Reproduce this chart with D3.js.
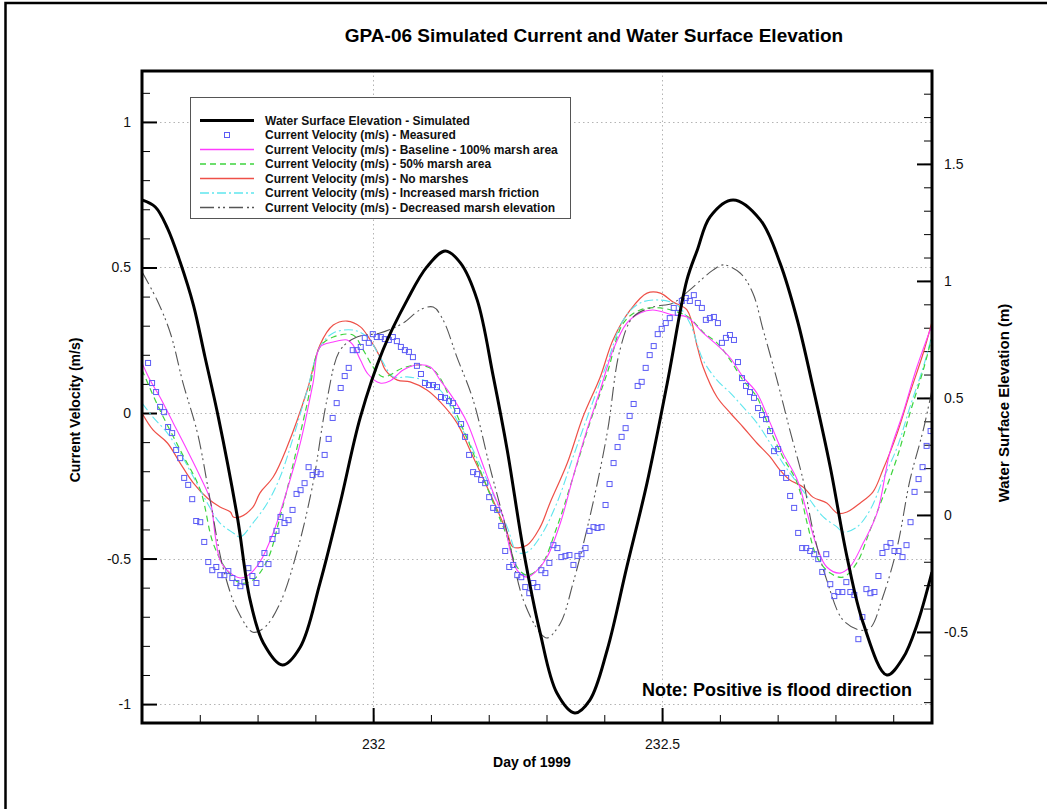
<!DOCTYPE html>
<html>
<head>
<meta charset="utf-8">
<script src="https://cdn.jsdelivr.net/npm/d3@7/dist/d3.min.js"></script>
<style>
  body { margin: 0; background: #fff; }
  svg { display: block; }
  text { font-family: "Liberation Sans", Arial, Helvetica, sans-serif; }
</style>
</head>
<body>
<svg id="chart" width="1047" height="809"></svg>
<script>
// ---- Data: GPA-06 station, day of year 1999 ----

// Simulated water surface elevation (m), [day, value]
const waterSurface = [
  [231.600,1.346],[231.623,1.316],[231.644,1.226],[231.666,1.081],[231.689,0.897],
  [231.709,0.675],[231.732,0.419],[231.765,-0.009],[231.787,-0.363],[231.810,-0.547],
  [231.843,-0.641],[231.874,-0.564],[231.908,-0.291],[231.943,0.051],[231.978,0.419],
  [232.017,0.705],[232.059,0.919],[232.093,1.060],[232.125,1.128],[232.151,1.077],
  [232.180,0.919],[232.208,0.590],[232.232,0.278],[232.260,-0.150],[232.289,-0.504],
  [232.318,-0.761],[232.349,-0.846],[232.375,-0.791],[232.405,-0.577],[232.439,-0.222],
  [232.474,0.137],[232.509,0.564],[232.543,1.004],[232.561,1.132],[232.583,1.274],
  [232.623,1.346],[232.670,1.261],[232.704,1.077],[232.734,0.833],[232.761,0.547],
  [232.791,0.205],[232.820,-0.179],[232.848,-0.462],[232.889,-0.684],[232.917,-0.611],
  [232.941,-0.470],[232.967,-0.244]
];

// Measured current velocity (m/s), 10-minute samples
const measuredStart = 231.6105;
const measuredStepMinutes = 10;
const measuredVelocity = [
  0.172,0.103,0.072,0.021,0.003,-0.048,-0.069,-0.127,-0.155,-0.223,
  -0.247,-0.296,-0.371,-0.375,-0.443,-0.512,-0.540,-0.529,-0.557,-0.557,
  -0.543,-0.567,-0.584,-0.595,-0.581,-0.533,-0.560,-0.584,-0.519,-0.481,
  -0.519,-0.433,-0.405,-0.357,-0.378,-0.368,-0.333,-0.278,-0.265,-0.241,
  -0.186,-0.213,-0.203,-0.210,-0.144,-0.089,-0.017,0.034,0.086,0.127,
  0.155,0.216,0.216,0.227,0.258,0.241,0.271,0.261,0.261,0.254,
  0.251,0.261,0.247,0.227,0.216,0.210,0.192,0.162,0.134,0.103,
  0.096,0.096,0.089,0.055,0.052,0.041,0.034,0.007,-0.038,-0.082,
  -0.144,-0.203,-0.210,-0.230,-0.241,-0.289,-0.326,-0.333,-0.388,-0.474,
  -0.529,-0.522,-0.557,-0.564,-0.598,-0.619,-0.584,-0.598,-0.540,-0.550,
  -0.515,-0.454,-0.464,-0.495,-0.491,-0.488,-0.522,-0.491,-0.485,-0.464,
  -0.405,-0.392,-0.395,-0.392,-0.316,-0.244,-0.172,-0.117,-0.082,-0.052,
  -0.010,0.031,0.093,0.107,0.155,0.199,0.230,0.271,0.289,0.309,
  0.326,0.361,0.344,0.385,0.395,0.385,0.405,0.378,0.361,0.320,
  0.326,0.330,0.309,0.241,0.258,0.268,0.251,0.175,0.120,0.093,
  0.072,0.052,0.017,-0.007,-0.021,-0.062,-0.131,-0.124,-0.206,-0.223,
  -0.285,-0.326,-0.412,-0.464,-0.464,-0.474,-0.485,-0.502,-0.546,-0.485,
  -0.588,-0.629,-0.615,-0.615,-0.581,-0.615,-0.625,-0.777,-0.701,-0.605,
  -0.619,-0.615,-0.560,-0.481,-0.460,-0.447,-0.474,-0.474,-0.495,-0.454,
  -0.375,-0.271,-0.227,-0.186,-0.113,-0.062,-0.003
];

// Simulated current velocity (m/s): baseline, 100% marsh area
const baseline = [
  [231.600,0.172],[231.614,0.113],[231.631,0.055],[231.654,-0.034],[231.678,-0.127],
  [231.701,-0.220],[231.718,-0.299],[231.727,-0.426],[231.735,-0.505],[231.747,-0.540],
  [231.770,-0.567],[231.784,-0.557],[231.804,-0.512],[231.827,-0.412],[231.851,-0.265],
  [231.874,-0.103],[231.896,0.103],[231.908,0.227],[231.931,0.244],[231.955,0.251],
  [231.965,0.234],[231.978,0.182],[231.991,0.134],[232.012,0.103],[232.029,0.110],
  [232.052,0.148],[232.076,0.165],[232.099,0.158],[232.116,0.113],[232.138,0.052],
  [232.163,-0.034],[232.185,-0.151],[232.208,-0.275],[232.225,-0.357],[232.237,-0.471],
  [232.249,-0.540],[232.266,-0.564],[232.284,-0.540],[232.301,-0.495],[232.324,-0.378],
  [232.346,-0.220],[232.370,-0.058],[232.393,0.079],[232.415,0.216],[232.439,0.309],
  [232.462,0.344],[232.484,0.354],[232.519,0.337],[232.543,0.330],[232.571,0.275],
  [232.595,0.234],[232.618,0.189],[232.640,0.124],[232.664,0.069],[232.687,-0.034],
  [232.709,-0.137],[232.734,-0.230],[232.751,-0.344],[232.768,-0.460],[232.785,-0.529],
  [232.808,-0.550],[232.825,-0.529],[232.848,-0.447],[232.872,-0.344],[232.894,-0.137],
  [232.917,0.000],[232.941,0.158],[232.967,0.302]
];

// 50% marsh area
const halfMarsh = [
  [231.600,0.148],[231.631,0.010],[231.666,-0.127],[231.701,-0.265],[231.723,-0.447],
  [231.747,-0.540],[231.770,-0.584],[231.792,-0.574],[231.817,-0.505],[231.839,-0.357],
  [231.862,-0.172],[231.886,0.034],[231.908,0.227],[231.931,0.261],[231.965,0.268],
  [231.983,0.216],[232.000,0.158],[232.017,0.124],[232.052,0.155],[232.081,0.165],
  [232.104,0.148],[232.116,0.120],[232.145,-0.007],[232.173,-0.137],[232.208,-0.309],
  [232.232,-0.426],[232.249,-0.529],[232.266,-0.557],[232.289,-0.529],[232.318,-0.392],
  [232.346,-0.220],[232.375,-0.034],[232.405,0.137],[232.433,0.309],[232.462,0.354],
  [232.497,0.361],[232.531,0.344],[232.548,0.326],[232.571,0.278],[232.595,0.241],
  [232.618,0.182],[232.640,0.113],[232.664,0.055],[232.687,-0.058],[232.709,-0.151],
  [232.734,-0.241],[232.751,-0.378],[232.768,-0.495],[232.791,-0.550],[232.813,-0.564],
  [232.837,-0.515],[232.860,-0.402],[232.882,-0.289],[232.907,-0.151],[232.929,0.000],
  [232.952,0.148],[232.967,0.261]
];

// No marshes
const noMarsh = [
  [231.600,0.000],[231.619,-0.058],[231.644,-0.103],[231.666,-0.172],[231.689,-0.241],
  [231.713,-0.292],[231.735,-0.323],[231.753,-0.340],[231.758,-0.357],[231.770,-0.357],
  [231.792,-0.323],[231.804,-0.275],[231.827,-0.220],[231.851,-0.117],[231.886,0.079],
  [231.908,0.234],[231.931,0.302],[231.955,0.316],[231.978,0.296],[231.995,0.251],
  [232.012,0.192],[232.021,0.148],[232.042,0.113],[232.064,0.107],[232.093,0.079],
  [232.116,0.038],[232.145,-0.034],[232.173,-0.151],[232.202,-0.275],[232.232,-0.412],
  [232.242,-0.460],[232.266,-0.454],[232.289,-0.392],[232.306,-0.309],[232.336,-0.172],
  [232.363,-0.014],[232.393,0.124],[232.415,0.251],[232.445,0.354],[232.474,0.412],
  [232.497,0.412],[232.519,0.381],[232.543,0.354],[232.561,0.227],[232.571,0.158],
  [232.595,0.055],[232.618,0.000],[232.640,-0.048],[232.664,-0.103],[232.687,-0.151],
  [232.704,-0.196],[232.721,-0.230],[232.744,-0.254],[232.761,-0.289],[232.785,-0.309],
  [232.803,-0.344],[232.820,-0.340],[232.843,-0.309],[232.865,-0.271],[232.882,-0.196],
  [232.907,-0.069],[232.929,0.069],[232.952,0.206],[232.967,0.313]
];

// Increased marsh friction
const highFriction = [
  [231.600,0.034],[231.619,-0.014],[231.644,-0.069],[231.666,-0.137],[231.689,-0.220],
  [231.713,-0.309],[231.735,-0.378],[231.758,-0.412],[231.770,-0.426],[231.792,-0.378],
  [231.817,-0.309],[231.839,-0.220],[231.862,-0.082],[231.886,0.079],[231.908,0.227],
  [231.931,0.275],[231.965,0.285],[231.990,0.261],[232.012,0.192],[232.035,0.124],
  [232.059,0.124],[232.087,0.113],[232.116,0.079],[232.145,-0.024],[232.173,-0.127],
  [232.232,-0.392],[232.249,-0.478],[232.266,-0.478],[232.289,-0.426],[232.318,-0.309],
  [232.346,-0.151],[232.375,0.010],[232.405,0.172],[232.433,0.320],[232.462,0.378],
  [232.497,0.388],[232.526,0.371],[232.548,0.309],[232.571,0.182],[232.595,0.113],
  [232.618,0.069],[232.640,0.021],[232.664,-0.034],[232.687,-0.103],[232.709,-0.172],
  [232.734,-0.241],[232.756,-0.299],[232.779,-0.357],[232.803,-0.392],[232.813,-0.409],
  [232.837,-0.392],[232.860,-0.333],[232.882,-0.230],[232.907,-0.117],[232.929,0.021],
  [232.952,0.158],[232.967,0.268]
];

// Decreased marsh elevation
const lowMarsh = [
  [231.600,0.485],[231.626,0.388],[231.649,0.275],[231.671,0.103],[231.696,-0.069],
  [231.718,-0.299],[231.740,-0.529],[231.765,-0.677],[231.792,-0.753],[231.813,-0.735],
  [231.839,-0.653],[231.869,-0.471],[231.896,-0.241],[231.920,0.045],[231.943,0.216],
  [231.972,0.261],[232.012,0.275],[232.052,0.309],[232.081,0.354],[232.104,0.364],
  [232.121,0.320],[232.145,0.192],[232.173,0.045],[232.202,-0.186],[232.232,-0.412],
  [232.260,-0.643],[232.289,-0.756],[232.301,-0.773],[232.324,-0.722],[232.346,-0.584],
  [232.375,-0.357],[232.405,-0.069],[232.427,0.216],[232.450,0.330],[232.484,0.364],
  [232.519,0.378],[232.548,0.423],[232.588,0.491],[232.606,0.509],[232.635,0.481],
  [232.657,0.412],[232.675,0.285],[232.699,0.113],[232.721,-0.058],[232.744,-0.230],
  [232.761,-0.402],[232.785,-0.574],[232.813,-0.711],[232.843,-0.746],[232.860,-0.739],
  [232.882,-0.632],[232.907,-0.460],[232.929,-0.230],[232.952,-0.058],[232.967,0.079]
];

// Axis ticks and labels
const velocityTicks = [-1, -0.5, 0, 0.5, 1];
const elevationTicks = [-0.5, 0, 0.5, 1, 1.5];
const dayTicks = [232, 232.5];
const legendLabels = [
  "Water Surface Elevation - Simulated",
  "Current Velocity (m/s) - Measured",
  "Current Velocity (m/s) - Baseline - 100% marsh area",
  "Current Velocity (m/s) - 50% marsh area",
  "Current Velocity (m/s) - No marshes",
  "Current Velocity (m/s) - Increased marsh friction",
  "Current Velocity (m/s) - Decreased marsh elevation"
];

// ---- Layout ----
const svg = d3.select("#chart");
const plot = { left: 142, right: 932, top: 71, bottom: 723 };

const x = d3.scaleLinear().domain([231.6, 232.9671]).range([plot.left, plot.right]);
const yL = d3.scaleLinear().domain([-1.065, 1.175]).range([plot.bottom, plot.top]);
const yR = d3.scaleLinear().domain([-0.889, 1.897]).range([plot.bottom, plot.top]);

// tick labels use a plain hyphen for negatives
const plainNumber = d => String(d);

// page border (left and top edges)
svg.append("path")
  .attr("d", `M5.5,809 L5.5,3 L1047,3`)
  .attr("fill", "none").attr("stroke", "#000").attr("stroke-width", 2.5);

// title
svg.append("text")
  .attr("x", 594).attr("y", 42)
  .attr("text-anchor", "middle")
  .attr("font-size", 19).attr("font-weight", "bold")
  .text("GPA-06 Simulated Current and Water Surface Elevation");

// clip region for data
svg.append("clipPath").attr("id", "plotClip")
  .append("rect")
  .attr("x", plot.left).attr("y", plot.top)
  .attr("width", plot.right - plot.left).attr("height", plot.bottom - plot.top);

// dotted grid
const grid = svg.append("g").attr("stroke", "#b4b4b4").attr("stroke-width", 1)
  .attr("stroke-dasharray", "1.5,3");
grid.selectAll("line.h").data(velocityTicks).join("line")
  .attr("x1", plot.left).attr("x2", plot.right)
  .attr("y1", d => Math.round(yL(d)) + 0.5).attr("y2", d => Math.round(yL(d)) + 0.5);
grid.selectAll("line.v").data(dayTicks).join("line")
  .attr("y1", plot.top).attr("y2", plot.bottom)
  .attr("x1", d => Math.round(x(d)) + 0.5).attr("x2", d => Math.round(x(d)) + 0.5);

// axes: ticks point into the plot
function styleAxis(g) {
  g.select(".domain").remove();
  g.selectAll(".tick line").attr("stroke", "#000").attr("stroke-width", 2);
  g.selectAll(".tick text").attr("font-size", 14).attr("fill", "#111")
    .attr("font-family", "'Liberation Sans', Arial, sans-serif");
}
function styleMinor(g) {
  g.select(".domain").remove();
  g.selectAll(".tick line").attr("stroke", "#000").attr("stroke-width", 1);
}

svg.append("g").attr("transform", `translate(${plot.left},0)`)
  .call(d3.axisLeft(yL).tickValues(yL.ticks(20)).tickSize(-8).tickFormat(""))
  .call(styleMinor);
svg.append("g").attr("transform", `translate(${plot.left},0)`)
  .call(d3.axisLeft(yL).tickValues(velocityTicks).tickSizeInner(-15).tickSizeOuter(0)
    .tickPadding(11).tickFormat(plainNumber))
  .call(styleAxis);

svg.append("g").attr("transform", `translate(${plot.right},0)`)
  .call(d3.axisRight(yR).tickValues(yR.ticks(25)).tickSize(-8).tickFormat(""))
  .call(styleMinor);
svg.append("g").attr("transform", `translate(${plot.right},0)`)
  .call(d3.axisRight(yR).tickValues(elevationTicks).tickSizeInner(-15).tickSizeOuter(0)
    .tickPadding(12).tickFormat(plainNumber))
  .call(styleAxis);

svg.append("g").attr("transform", `translate(0,${plot.bottom})`)
  .call(d3.axisBottom(x).tickValues(x.ticks(12)).tickSize(-8).tickFormat(""))
  .call(styleMinor);
svg.append("g").attr("transform", `translate(0,${plot.bottom})`)
  .call(d3.axisBottom(x).tickValues(dayTicks).tickSizeInner(-15).tickSizeOuter(0)
    .tickPadding(16).tickFormat(plainNumber))
  .call(styleAxis);

// series
const data = svg.append("g").attr("clip-path", "url(#plotClip)");
const velLine = d3.line().x(d => x(d[0])).y(d => yL(d[1])).curve(d3.curveCatmullRom.alpha(0.5));
const wseLine = d3.line().x(d => x(d[0])).y(d => yR(d[1])).curve(d3.curveCatmullRom.alpha(0.5));

const styles = {
  wse:      { stroke: "#000000", width: 3,   dash: null },
  baseline: { stroke: "#ff3cff", width: 1.1, dash: null },
  half:     { stroke: "#3ed43e", width: 1.2, dash: "6,4" },
  none:     { stroke: "#ee5048", width: 1.2, dash: null },
  friction: { stroke: "#5fe6ee", width: 1.1, dash: "9,3,2,3" },
  lowMarsh: { stroke: "#555555", width: 1.1, dash: "14,4,2,3,2,4" },
  measured: { stroke: "#5c5cf5" }
};

function drawLine(series, st, gen) {
  data.append("path").datum(series)
    .attr("d", gen).attr("fill", "none")
    .attr("stroke", st.stroke).attr("stroke-width", st.width)
    .attr("stroke-dasharray", st.dash);
}
drawLine(noMarsh, styles.none, velLine);
drawLine(highFriction, styles.friction, velLine);
drawLine(halfMarsh, styles.half, velLine);
drawLine(baseline, styles.baseline, velLine);
drawLine(lowMarsh, styles.lowMarsh, velLine);

const measured = measuredVelocity.map((v, i) => [measuredStart + i * measuredStepMinutes / 1440, v]);
data.append("g").selectAll("rect").data(measured).join("rect")
  .attr("x", d => x(d[0]) - 2.5).attr("y", d => yL(d[1]) - 2.5)
  .attr("width", 5).attr("height", 5)
  .attr("fill", "none").attr("stroke", styles.measured.stroke).attr("stroke-width", 1);

drawLine(waterSurface, styles.wse, wseLine);

// plot frame
svg.append("rect")
  .attr("x", plot.left).attr("y", plot.top)
  .attr("width", plot.right - plot.left).attr("height", plot.bottom - plot.top)
  .attr("fill", "none").attr("stroke", "#000").attr("stroke-width", 3);

// axis titles
svg.append("text")
  .attr("transform", `translate(80,410) rotate(-90)`)
  .attr("text-anchor", "middle").attr("font-size", 14).attr("font-weight", "bold")
  .text("Current Velocity (m/s)");
svg.append("text")
  .attr("transform", `translate(1009,403) rotate(-90)`)
  .attr("text-anchor", "middle").attr("font-size", 15).attr("font-weight", "bold")
  .text("Water Surface Elevation (m)");
svg.append("text")
  .attr("x", 532).attr("y", 767)
  .attr("text-anchor", "middle").attr("font-size", 14).attr("font-weight", "bold")
  .text("Day of 1999");

// note
svg.append("text")
  .attr("x", 912).attr("y", 696)
  .attr("text-anchor", "end").attr("font-size", 18).attr("font-weight", "bold")
  .text("Note: Positive is flood direction");

// legend
const legend = svg.append("g");
legend.append("rect")
  .attr("x", 190.5).attr("y", 97.5).attr("width", 380).attr("height", 121)
  .attr("fill", "#fff").attr("stroke", "#555").attr("stroke-width", 1);
const legendStyles = [styles.wse, styles.measured, styles.baseline, styles.half,
  styles.none, styles.friction, styles.lowMarsh];
legendLabels.forEach((label, i) => {
  const cy = 120.5 + i * 14.5;
  const st = legendStyles[i];
  if (i === 1) {
    legend.append("rect").attr("x", 224.5).attr("y", cy - 2.5)
      .attr("width", 5).attr("height", 5)
      .attr("fill", "none").attr("stroke", st.stroke).attr("stroke-width", 1);
  } else {
    legend.append("line").attr("x1", 200).attr("x2", 254)
      .attr("y1", cy).attr("y2", cy)
      .attr("stroke", st.stroke).attr("stroke-width", i === 0 ? 3 : 1.4)
      .attr("stroke-dasharray", st.dash);
  }
  legend.append("text").attr("x", 265).attr("y", cy + 4)
    .attr("font-size", 12).attr("font-weight", "bold").attr("fill", "#111")
    .text(label);
});
</script>
</body>
</html>
